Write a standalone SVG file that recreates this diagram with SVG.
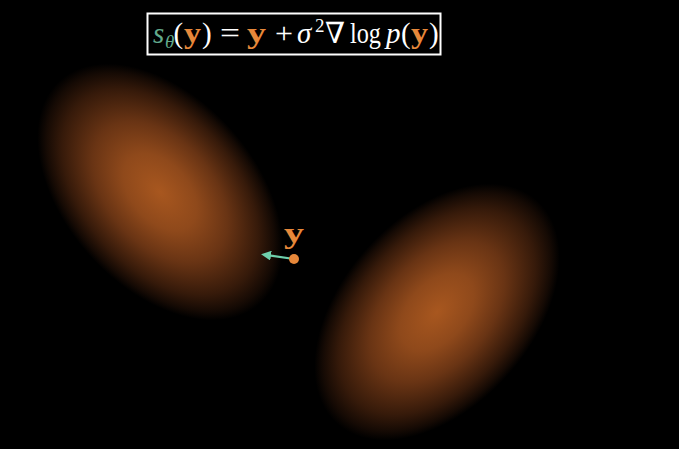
<svg xmlns="http://www.w3.org/2000/svg" width="679" height="449" viewBox="0 0 679 449">
<defs>
<radialGradient id="blob" cx="0.5" cy="0.5" r="0.5">
<stop offset="0" stop-color="#a8571f"/>
<stop offset="0.3" stop-color="#8f491b"/>
<stop offset="0.55" stop-color="#693414"/>
<stop offset="0.8" stop-color="#361a0a"/>
<stop offset="0.93" stop-color="#150a04"/>
<stop offset="1" stop-color="#000000"/>
</radialGradient>
<marker id="ah" viewBox="0 0 10 10" refX="2" refY="5" markerWidth="10" markerHeight="10" markerUnits="userSpaceOnUse" orient="auto">
<path d="M0,0 L10,5 L0,10 z" fill="#6fd0ac"/>
</marker>
<style>
.f{font-family:"Liberation Serif","DejaVu Serif",serif;font-size:29px;fill:#ffffff}
.i{font-style:italic}
.y{fill:#e7883a;font-weight:bold}
.t{fill:#62aa8c}
</style>
</defs>
<rect width="679" height="449" fill="#000"/>
<g id="blob1"><ellipse cx="160" cy="192" rx="150" ry="95" fill="url(#blob)" transform="rotate(48 160 192)"/></g>
<g id="blob2"><ellipse cx="437" cy="312" rx="150" ry="95" fill="url(#blob)" transform="rotate(-48 437 312)"/></g>
<g id="formula">
<rect x="147.5" y="13.5" width="293" height="41" fill="#000" stroke="#ffffff" stroke-width="2"/>
<text class="f i t" x="153" y="43">s</text>
<text class="f i t" x="165" y="48" style="font-size:19px">θ</text>
<text class="f" x="173.5" y="43">(</text>
<text class="f y" x="184" y="43" textLength="17" lengthAdjust="spacingAndGlyphs">y</text>
<text class="f" x="202" y="43">)</text>
<text class="f" x="220" y="43" textLength="20" lengthAdjust="spacingAndGlyphs">=</text>
<text class="f y" x="247" y="43" textLength="19" lengthAdjust="spacingAndGlyphs">y</text>
<text class="f" x="275" y="43" textLength="18" lengthAdjust="spacingAndGlyphs">+</text>
<text class="f i" x="297" y="43">σ</text>
<text class="f" x="315" y="32" style="font-size:19px">2</text>
<text class="f" x="325" y="43" textLength="20" lengthAdjust="spacingAndGlyphs">∇</text>
<text class="f" x="350" y="43" textLength="31" lengthAdjust="spacingAndGlyphs">log</text>
<text class="f i" x="386" y="43">p</text>
<text class="f" x="401" y="43">(</text>
<text class="f y" x="411" y="43" textLength="17" lengthAdjust="spacingAndGlyphs">y</text>
<text class="f" x="429" y="43">)</text>
</g>
<g id="connectors">
<line x1="294" y1="259" x2="269" y2="255.3" stroke="#6fd0ac" stroke-width="2.2" marker-end="url(#ah)"/>
</g>
<g id="point">
<circle cx="294" cy="259" r="5" fill="#e7883a"/>
<text class="f y" x="284" y="243" style="font-size:30px" textLength="20" lengthAdjust="spacingAndGlyphs">y</text>
</g>
</svg>
